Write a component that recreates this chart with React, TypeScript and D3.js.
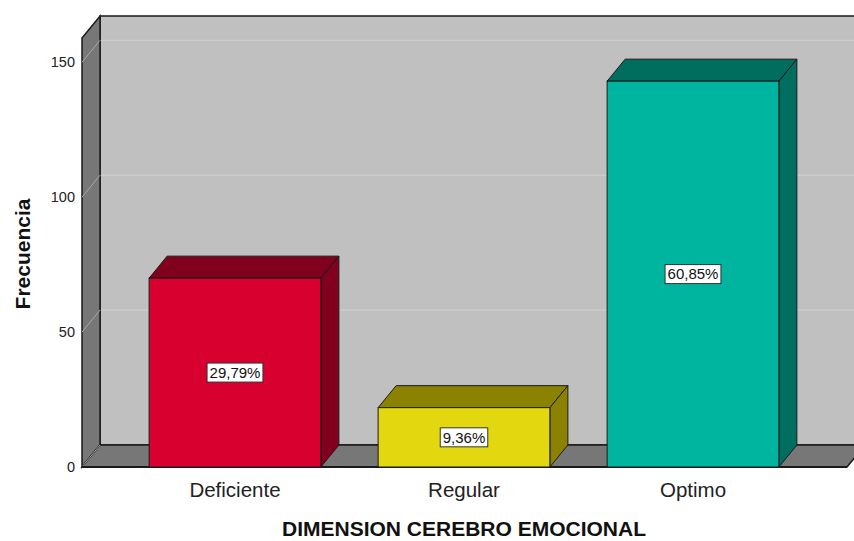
import React from "react";
import * as d3 from "d3";

const categories = ["Deficiente", "Regular", "Optimo"];
const values = [70, 22, 143];
const percentLabels = ["29,79%", "9,36%", "60,85%"];
const yTicks = [0, 50, 100, 150];
const frontColors = ["#D7002F", "#E3D80F", "#00B5A0"];
const darkColors = ["#80001E", "#8A8200", "#006E5E"];

const W = 854;
const H = 541;
const DX = 18;
const DY = 22;
const x0 = 82;
const yBase = 467;

function textWidth(s: string, size: number) {
  let w = 0;
  for (const ch of s) {
    if (ch === ",") w += 0.278;
    else if (ch === "%") w += 0.889;
    else w += 0.556;
  }
  return w * size;
}

export default function App() {
  const y = d3.scaleLinear().domain([0, 159]).range([yBase, 38]);
  const x = d3
    .scaleBand<string>()
    .domain(categories)
    .range([120.5, 807.5])
    .paddingInner(0.25)
    .paddingOuter(0.125);
  const xRight = 847;
  const yTop = y(159);
  const pts = (p: [number, number][]) => p.map((q) => q.join(",")).join(" ");
  return (
    <svg width={W} height={H} style={{ position: "absolute", left: 0, top: 0 }} fontFamily="'Liberation Sans', Arial, sans-serif">
      <rect width={W} height={H} fill="#fff" />
      {/* back wall */}
      <rect x={x0 + DX} y={yTop - DY} width={xRight - x0 + 40} height={yBase - yTop} fill="#C0C0C0" stroke="#1a1a1a" strokeWidth={1.5} />
      {yTicks.filter((t) => t > 0).map((t) => (
        <line key={"g" + t} x1={x0 + DX} x2={W} y1={y(t) - DY} y2={y(t) - DY} stroke="#D2D2D2" strokeWidth={1} />
      ))}
      {/* side wall */}
      <polygon points={pts([[x0, yBase], [x0, yTop], [x0 + DX, yTop - DY], [x0 + DX, yBase - DY]])} fill="#777777" stroke="#1a1a1a" strokeWidth={1.5} />
      {yTicks.filter((t) => t > 0).map((t) => (
        <line key={"s" + t} x1={x0} x2={x0 + DX} y1={y(t)} y2={y(t) - DY} stroke="#A8A8A8" strokeWidth={1} />
      ))}
      {/* floor */}
      <polygon points={pts([[x0, yBase], [x0 + DX, yBase - DY], [xRight + DX, yBase - DY], [xRight, yBase]])} fill="#777777" stroke="#1a1a1a" strokeWidth={1.5} />
      <line x1={x0} y1={yBase} x2={x0 + DX} y2={yBase - DY} stroke="#A8A8A8" strokeWidth={1} />
      <line x1={x0} y1={yBase} x2={xRight} y2={yBase} stroke="#1a1a1a" strokeWidth={2} />
      {/* ticks */}
      {yTicks.map((t) => (
        <text key={"t" + t} x={75} y={y(t) + 5} textAnchor="end" fontSize={14.5} fill="#222">{t}</text>
      ))}
      {/* bars */}
      {categories.map((c, i) => {
        const bx = x(c)!;
        const bw = x.bandwidth();
        const by = y(values[i]);
        return (
          <g key={c}>
            <polygon points={pts([[bx, by], [bx + DX, by - DY], [bx + bw + DX, by - DY], [bx + bw, by]])} fill={darkColors[i]} stroke="#1a1a1a" strokeWidth={1} />
            <polygon points={pts([[bx + bw, by], [bx + bw + DX, by - DY], [bx + bw + DX, yBase - DY], [bx + bw, yBase]])} fill={darkColors[i]} stroke="#1a1a1a" strokeWidth={1} />
            <rect x={bx} y={by} width={bw} height={yBase - by} fill={frontColors[i]} stroke="#1a1a1a" strokeWidth={1} />
          </g>
        );
      })}
      {categories.map((c, i) => {
        const cx = x(c)! + x.bandwidth() / 2;
        const cy = (y(values[i]) + yBase) / 2;
        const tw = textWidth(percentLabels[i], 15) + 5;
        return (
          <g key={"l" + c}>
            <rect x={cx - tw / 2} y={cy - 9.5} width={tw} height={19} fill="#fff" stroke="#333" strokeWidth={1} />
            <text x={cx} y={cy + 5.3} textAnchor="middle" fontSize={15} fill="#111">{percentLabels[i]}</text>
          </g>
        );
      })}
      {categories.map((c) => (
        <text key={"c" + c} x={x(c)! + x.bandwidth() / 2} y={497} textAnchor="middle" fontSize={20.5} fill="#222">{c}</text>
      ))}
      <text x={464} y={536} textAnchor="middle" fontSize={21} fontWeight="bold" fill="#111">DIMENSION CEREBRO EMOCIONAL</text>
      <text transform="translate(30,254) rotate(-90)" textAnchor="middle" fontSize={21} fontWeight="bold" fill="#111">Frecuencia</text>
    </svg>
  );
}
